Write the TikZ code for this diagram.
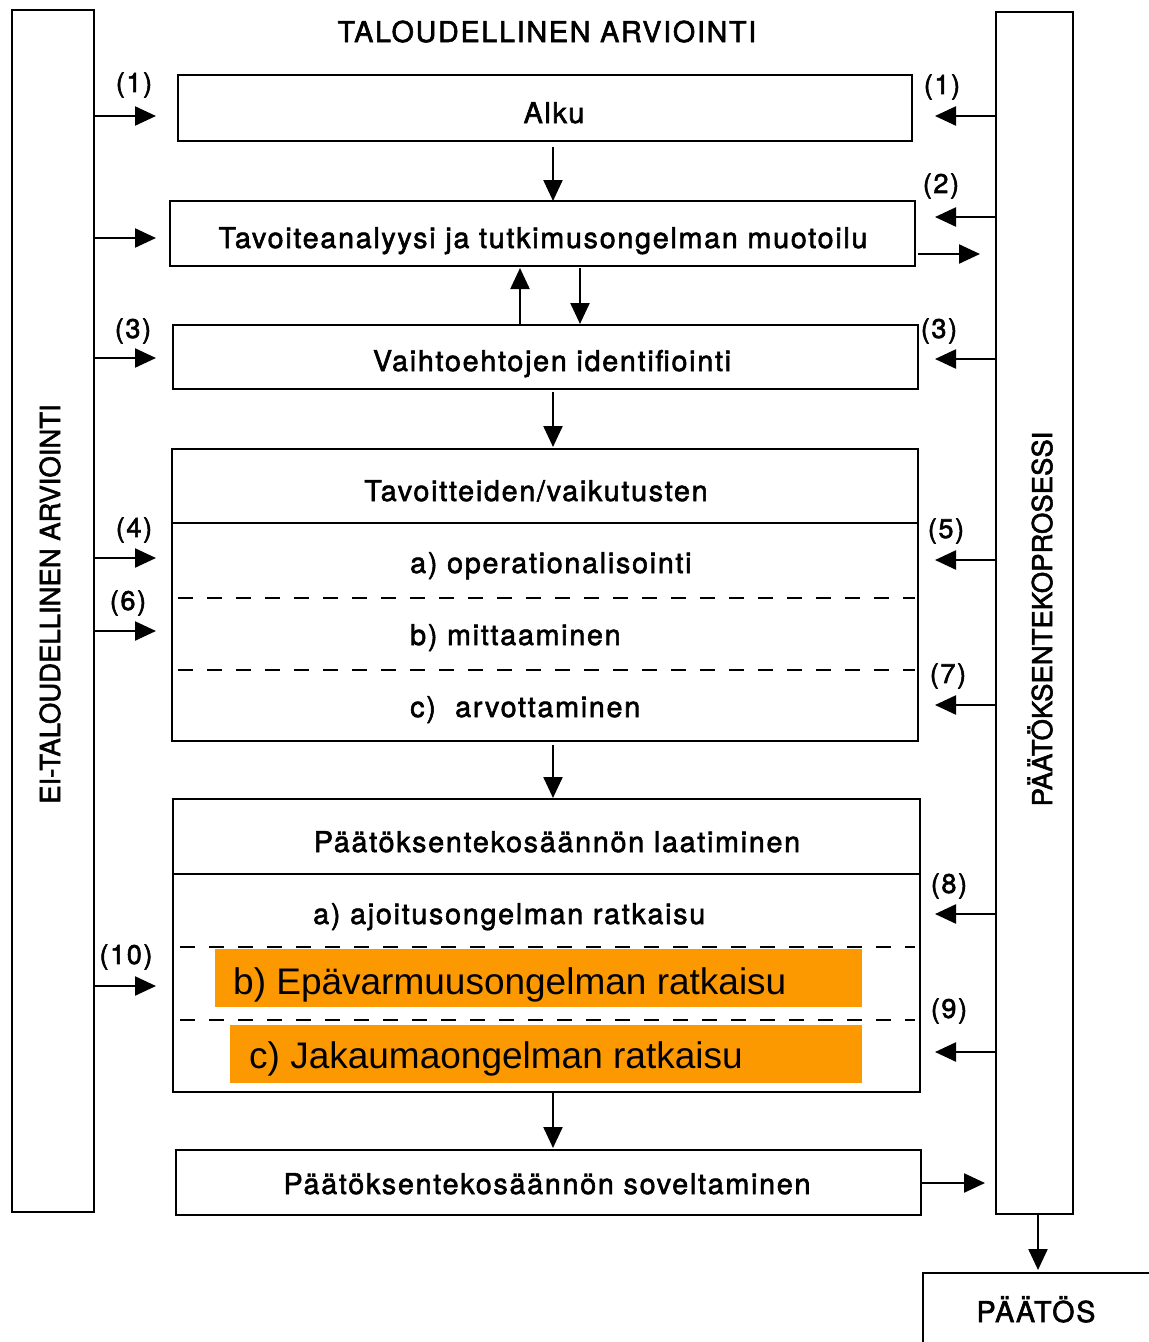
\documentclass[tikz,border=0pt]{standalone}
\usepackage{fontspec}
\setmainfont{TeX Gyre Heros}
\newfontfamily\hv[LetterSpace=6,FakeBold=2]{TeX Gyre Heros}
\newfontfamily\hvplain[FakeBold=2]{TeX Gyre Heros}
\newfontfamily\ar{Liberation Sans}
\usetikzlibrary{arrows.meta}
\definecolor{orng}{RGB}{253,153,0}
\tikzset{
  box/.style={draw, line width=2.5pt, minimum width=#1, inner sep=0pt},
  txt/.style={inner sep=0pt, font=\hv\fontsize{28.7pt}{32pt}\selectfont},
  lbl/.style={inner sep=0pt, font=\hv\fontsize{27pt}{30pt}\selectfont},
  side/.style={inner sep=0pt, font=\hvplain\fontsize{27.5pt}{30pt}\selectfont, rotate=90},
  big/.style={inner sep=0pt, font=\ar\fontsize{37pt}{40pt}\selectfont},
  arr/.style={line width=2.3pt, -{Triangle[length=21pt,width=19pt]}},
  dsh/.style={line width=1.8pt, dash pattern=on 15pt off 14pt},
  sep/.style={line width=2.3pt}
}
\begin{document}
\begin{tikzpicture}[x=1pt,y=-1pt]
\useasboundingbox (0,0) rectangle (1149,1342);
% side bars
\node[box=82pt, minimum height=1202pt] (leftbar) at (53,611) {};
\node[box=77pt, minimum height=1202pt] (rightbar) at (1034.5,613) {};
\node[side] (lefttxt) at (50,604) {EI-TALOUDELLINEN ARVIOINTI};
\node[side] (righttxt) at (1040,619) {PÄÄTÖKSENTEKOPROSESSI};
% title
\node[txt, anchor=base] (title) at (547,42) {TALOUDELLINEN ARVIOINTI};
% main boxes
\node[box=734pt, minimum height=66pt] (alku) at (545,108) {};
\node[txt, anchor=base] (alkut) at (554,123) {Alku};
\node[box=745pt, minimum height=65pt] (tav) at (542.5,233.5) {};
\node[txt, anchor=base] (tavt) at (543,248) {Tavoiteanalyysi ja tutkimusongelman muotoilu};
\node[box=745pt, minimum height=64pt] (vaih) at (545.5,357) {};
\node[txt, anchor=base] (vaiht) at (552,371) {Vaihtoehtojen identifiointi};
\node[box=746pt, minimum height=292pt] (vaik) at (545,595) {};
\node[box=747pt, minimum height=293pt] (laat) at (546.5,945.5) {};
\node[box=745pt, minimum height=65pt] (sov) at (548.5,1182.5) {};
\node[txt, anchor=base] (sovt) at (547,1194) {Päätöksentekosäännön soveltaminen};
% vaikutusten box contents
\draw[sep] (vaik.west |- 0,523) -- (vaik.east |- 0,523);
\draw[dsh] (178,598) -- (915,598);
\draw[dsh] (178,670) -- (915,670);
\node[txt, anchor=base] (vaikh) at (536,501) {Tavoitteiden/vaikutusten};
\node[txt, anchor=base west] (va) at (410,573) {a) operationalisointi};
\node[txt, anchor=base west] (vb) at (410,645) {b) mittaaminen};
\node[txt, anchor=base west] (vc) at (410,717) {c)\ \ arvottaminen};
% laatiminen box contents
\draw[sep] (laat.west |- 0,874) -- (laat.east |- 0,874);
\draw[dsh] (180,947) -- (915,947);
\draw[dsh] (180,1020) -- (915,1020);
\node[txt, anchor=base] (laath) at (557,852) {Päätöksentekosäännön laatiminen};
\node[txt, anchor=base west] (la) at (313,924) {a) ajoitusongelman ratkaisu};
\fill[orng] (215,949) rectangle (862,1007);
\fill[orng] (230,1025) rectangle (862,1083);
\node[big, anchor=base west] (lb) at (233,994) {b) Epävarmuusongelman ratkaisu};
\node[big, anchor=base west] (lc) at (249,1068) {c) Jakaumaongelman ratkaisu};
% PAATOS
\draw[line width=2.5pt] (1160,1273) -- (923,1273) -- (923,1360);
\node[txt, anchor=base] (paatos) at (1036,1322) {PÄÄTÖS};
% vertical flow arrows
\draw[arr] (553,147) -- (553,201);
\draw[arr] (520,325) -- (520,268);
\draw[arr] (580,268) -- (580,324);
\draw[arr] (553,392) -- (553,447);
\draw[arr] (553,745) -- (553,798);
\draw[arr] (553,1093) -- (553,1148);
\draw[arr] (rightbar.south -| 1038,0) -- (1038,1270);
% to right bar
\draw[arr] (918,254) -- (980,254);
\draw[arr] (921,1183) -- (985,1183);
% left bar arrows
\foreach \yy in {116,238,358,558,631,986}
  \draw[arr] (leftbar.east |- 0,\yy) -- (156,\yy);
% right bar arrows
\foreach \yy in {116,217,359,560,705,914,1052}
  \draw[arr] (rightbar.west |- 0,\yy) -- (935,\yy);
% labels
\node[lbl] (l1) at (134,85) {(1)};
\node[lbl] (l3) at (133,331) {(3)};
\node[lbl] (l4) at (134,530) {(4)};
\node[lbl] (l6) at (128,603) {(6)};
\node[lbl] (l10) at (126,957) {(10)};
\node[lbl] (r1) at (942,87) {(1)};
\node[lbl] (r2) at (941,186) {(2)};
\node[lbl] (r3) at (939,331) {(3)};
\node[lbl] (r5) at (946,531) {(5)};
\node[lbl] (r7) at (948,676) {(7)};
\node[lbl] (r8) at (949,886) {(8)};
\node[lbl] (r9) at (949,1011) {(9)};
\end{tikzpicture}
\end{document}
